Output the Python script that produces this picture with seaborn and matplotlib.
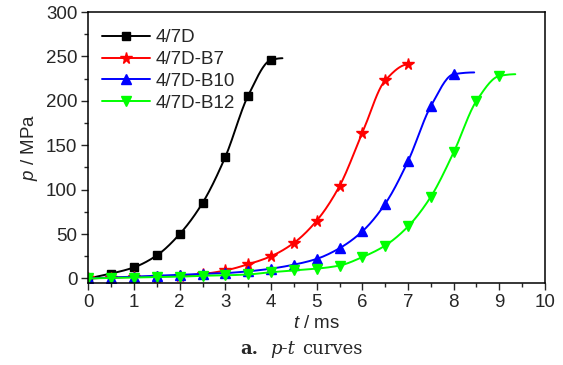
import numpy as np
import pandas as pd
import matplotlib
matplotlib.use("Agg")
import matplotlib.pyplot as plt
import seaborn as sns
from matplotlib.ticker import MultipleLocator

# data (t in ms, p in MPa)
t_7d = [0, 0.5, 1, 1.5, 2, 2.5, 3, 3.5, 4]
p_7d = [0, 5.5, 12.5, 26, 50, 85, 137, 206, 246]
t_b7 = [0, 0.5, 1, 1.5, 2, 2.5, 3, 3.5, 4, 4.5, 5, 5.5, 6, 6.5, 7]
p_b7 = [0, 1, 1.5, 2, 3, 5, 9, 16, 25, 40, 65, 104, 164, 223, 241]
t_b10 = [0, 0.5, 1, 1.5, 2, 2.5, 3, 3.5, 4, 4.5, 5, 5.5, 6, 6.5, 7, 7.5, 8]
p_b10 = [0, 1, 2, 3, 4, 5, 6, 8, 11, 15.5, 22, 34, 53, 84, 132, 194, 230]
t_b12 = [0, 0.5, 1, 1.5, 2, 2.5, 3, 3.5, 4, 4.5, 5, 5.5, 6, 6.5, 7, 7.5, 8, 8.5, 9]
p_b12 = [0, 0.5, 1, 1.5, 2, 3, 3.5, 4.5, 7, 9, 11, 14.5, 24, 37, 58.5, 92, 142, 200, 228]
# where each fitted curve ends past its last marker
t_end = [4.25, 7.0, 8.45, 9.35]
p_end = [248, 242, 232, 230]

labels = ["4/7D", "4/7D-B7", "4/7D-B10", "4/7D-B12"]
colors = ["black", "#ff0000", "#0000ff", "#00ff00"]
markers = ["s", "*", "^", "v"]
msizes = [6, 8.5, 7.5, 7.5]


def pchip(x, y, xs):
    # monotone cubic hermite, keeps the curve from overshooting
    x = np.asarray(x, float); y = np.asarray(y, float)
    h = np.diff(x); d = np.diff(y) / h
    m = np.zeros_like(y)
    for i in range(1, len(y) - 1):
        if d[i - 1] * d[i] > 0:
            w1 = 2 * h[i] + h[i - 1]; w2 = h[i] + 2 * h[i - 1]
            m[i] = (w1 + w2) / (w1 / d[i - 1] + w2 / d[i])
    m[0] = d[0]; m[-1] = 0
    idx = np.clip(np.searchsorted(x, xs) - 1, 0, len(h) - 1)
    s = (xs - x[idx]) / h[idx]
    h00 = 2 * s**3 - 3 * s**2 + 1; h10 = s**3 - 2 * s**2 + s
    h01 = -2 * s**3 + 3 * s**2; h11 = s**3 - s**2
    return h00 * y[idx] + h10 * h[idx] * m[idx] + h01 * y[idx + 1] + h11 * h[idx] * m[idx + 1]


series = [(t_7d, p_7d), (t_b7, p_b7), (t_b10, p_b10), (t_b12, p_b12)]

sns.set_style("ticks")
plt.rcParams['font.family'] = ['Liberation Sans', 'DejaVu Sans']
plt.rcParams['mathtext.fontset'] = 'custom'
plt.rcParams['mathtext.rm'] = 'Liberation Sans'
plt.rcParams['mathtext.it'] = 'Liberation Sans:italic'

fig = plt.figure(figsize=(5.63, 3.65), dpi=100)
ax = fig.add_axes([0.157, 0.225, 0.811, 0.742])

for k, (t, p) in enumerate(series):
    tt, pp = list(t), list(p)
    if t_end[k] > tt[-1]:
        tt.append(t_end[k]); pp.append(p_end[k])
    xs = np.linspace(0, tt[-1], 300)
    curve = pd.DataFrame({"t": xs, "p": pchip(tt, pp, xs)})
    sns.lineplot(data=curve, x="t", y="p", ax=ax, color=colors[k], lw=1.4,
                 estimator=None, sort=False)
    ax.plot(t, p, ls="-", lw=0, marker=markers[k], ms=msizes[k],
            color=colors[k], mec=colors[k])
    # legend proxy
    ax.plot([], [], ls="-", lw=1.4, marker=markers[k], ms=msizes[k],
            color=colors[k], label=labels[k])

ax.set_xlim(0, 10)
ax.set_ylim(-5, 300)
ax.xaxis.set_major_locator(MultipleLocator(1))
ax.xaxis.set_minor_locator(MultipleLocator(0.5))
ax.yaxis.set_major_locator(MultipleLocator(50))
ax.yaxis.set_minor_locator(MultipleLocator(25))
ax.tick_params(which="major", direction="out", length=5, width=1, labelsize=13.5, pad=3)
ax.tick_params(which="minor", direction="out", length=3, width=1)
for sp in ax.spines.values():
    sp.set_linewidth(1.1)
    sp.set_color("black")

ax.set_xlabel("$\\it{t}$ / ms", fontsize=13.5, labelpad=3)
ax.set_ylabel("$\\it{p}$ / MPa", fontsize=13.5, labelpad=4)

ax.legend(loc="upper left", bbox_to_anchor=(0.0, 0.985), frameon=False,
          fontsize=13.5, handlelength=2.6, labelspacing=0.25,
          handletextpad=0.3, borderaxespad=0.3)

# caption under the plot
cap_y = 0.03
fig.text(240 / 563, cap_y, "a.", fontsize=13, family="DejaVu Serif", weight="bold", ha="left")
fig.text(270 / 563, cap_y, "p-t", fontsize=13, family="DejaVu Serif", style="italic", ha="left")
fig.text(302 / 563, cap_y, "curves", fontsize=13, family="DejaVu Serif", ha="left")

fig.savefig("out.png", dpi=100)
